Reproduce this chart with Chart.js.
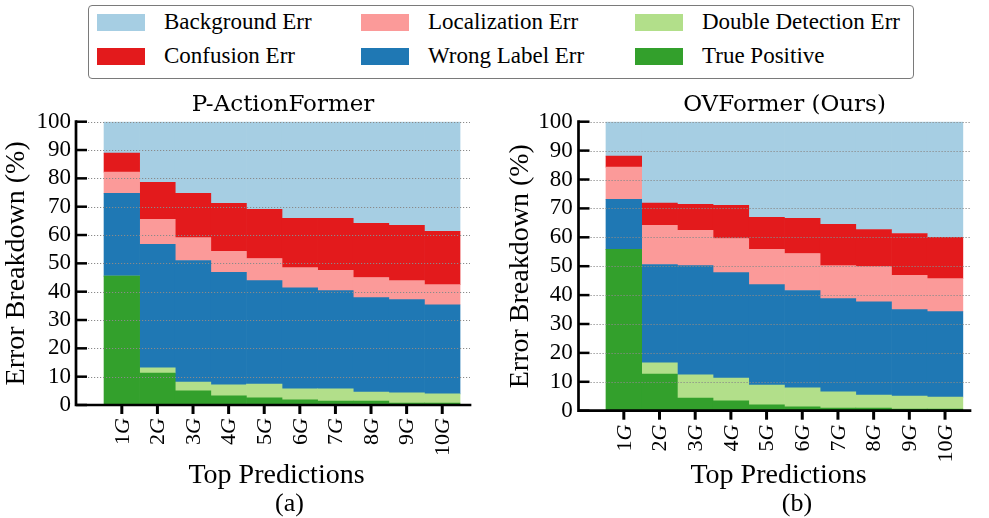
<!DOCTYPE html>
<html>
<head>
<meta charset="utf-8">
<script src="https://cdn.jsdelivr.net/npm/chart.js@4/dist/chart.umd.min.js"></script>
<style>
  html, body { margin: 0; padding: 0; background: #fff; }
  body { width: 989px; height: 518px; position: relative; overflow: hidden; font-family: 'Liberation Serif'; }
  .panel { position: absolute; top: 0; height: 518px; }
  #legend {
    position: absolute; left: 88px; top: 5px; width: 824px; height: 72px;
    border: 1.5px solid #7a7a7a; border-radius: 4px; background: #fff; z-index: 2;
  }
  .item { position: absolute; height: 17px; }
  .sw { position: absolute; left: 0; top: 0; width: 48px; height: 17px; }
  .lbl { position: absolute; left: 67px; top: -6px; font-family: 'Liberation Serif'; font-size: 23px; line-height: 28px; white-space: nowrap; color: #000; }
</style>
</head>
<body>
<div id="legend"></div>
<div class="panel" style="left:0;width:495px"><canvas id="chartA"></canvas></div>
<div class="panel" style="left:495px;width:494px"><canvas id="chartB"></canvas></div>
<script>
// Categories (top-k predictions) and y ticks
const xTickLabels = ['1G', '2G', '3G', '4G', '5G', '6G', '7G', '8G', '9G', '10G'];
const yTicks = [0, 10, 20, 30, 40, 50, 60, 70, 80, 90, 100];

// Series names, bottom to top of the stack
const seriesNames = ['True Positive', 'Double Detection Err', 'Wrong Label Err',
                     'Localization Err', 'Confusion Err', 'Background Err'];
const seriesColors = ['#33a02c', '#b2df8a', '#1f78b4', '#fb9a99', '#e31a1c', '#a6cee3'];

// (a) P-ActionFormer, percentages per top-k
const aTruePositive = [45.5, 11.3, 5.0, 3.2, 2.5, 1.8, 1.4, 1.4, 0.7, 0.7];
const aDoubleDet    = [0.0, 1.8, 3.1, 3.9, 4.9, 3.9, 4.3, 3.2, 3.6, 3.2];
const aWrongLabel   = [29.2, 43.6, 42.9, 39.7, 36.5, 35.7, 34.7, 33.3, 32.9, 31.5];
const aLocalization = [7.5, 8.8, 8.1, 7.4, 7.8, 7.1, 7.1, 7.1, 6.7, 7.1];
const aConfusion    = [6.7, 13.1, 15.6, 17.0, 17.4, 17.4, 18.4, 19.1, 19.5, 18.8];
const aBackground   = [11.1, 21.4, 25.3, 28.8, 30.9, 34.1, 34.1, 35.9, 36.6, 38.7];

// (b) OVFormer (Ours), percentages per top-k
const bTruePositive = [55.8, 12.7, 4.4, 3.4, 2.0, 1.3, 0.9, 0.9, 0.6, 0.6];
const bDoubleDet    = [0.0, 3.9, 8.0, 7.9, 6.9, 6.6, 5.6, 4.5, 4.5, 4.1];
const bWrongLabel   = [17.3, 34.0, 37.8, 36.5, 34.7, 33.7, 32.3, 32.3, 29.9, 29.6];
const bLocalization = [11.2, 13.5, 12.2, 11.8, 12.2, 12.8, 11.4, 12.2, 11.8, 11.4];
const bConfusion    = [3.8, 7.7, 9.0, 11.5, 11.1, 12.2, 14.3, 12.8, 14.5, 14.3];
const bBackground   = [11.9, 28.2, 28.6, 28.9, 33.1, 33.4, 35.5, 37.3, 38.7, 40.0];

// Legend (two rows, three columns)
const legendOrder = [
  ['Background Err', 0, 0], ['Localization Err', 1, 0], ['Double Detection Err', 2, 0],
  ['Confusion Err', 0, 1], ['Wrong Label Err', 1, 1], ['True Positive', 2, 1]
];
const legendColX = [8, 272, 546];
const legendRowY = [8, 42];
const legendEl = document.getElementById('legend');
legendOrder.forEach(([name, c, r]) => {
  const it = document.createElement('div');
  it.className = 'item';
  it.style.left = legendColX[c] + 'px';
  it.style.top = legendRowY[r] + 'px';
  const sw = document.createElement('div');
  sw.className = 'sw';
  sw.style.background = seriesColors[seriesNames.indexOf(name)];
  const lb = document.createElement('div');
  lb.className = 'lbl';
  lb.textContent = name;
  it.appendChild(sw); it.appendChild(lb);
  legendEl.appendChild(it);
});

const SERIF = "'Liberation Serif'";

// Spines, inward y ticks, outward x ticks, dotted grid over the bars,
// x labels with italic G, panel title, x-axis title and panel letter
const axisDecor = {
  id: 'axisDecor',
  afterDatasetsDraw(chart, args, o) {
    const { ctx, chartArea: { left, right, top, bottom }, scales: { x, y } } = chart;
    ctx.save();
    // dotted horizontal grid
    ctx.strokeStyle = '#8a8a8a';
    ctx.lineWidth = 1;
    ctx.setLineDash([1.2, 1.8]);
    yTicks.forEach(v => {
      if (v === 0) return;
      const py = Math.round(y.getPixelForValue(v)) + 0.5;
      ctx.beginPath(); ctx.moveTo(left, py); ctx.lineTo(right, py); ctx.stroke();
    });
    ctx.setLineDash([]);
    // spines
    ctx.strokeStyle = '#000';
    ctx.lineWidth = 2.7;
    ctx.lineCap = 'square';
    ctx.beginPath();
    ctx.moveTo(left, top); ctx.lineTo(left, bottom); ctx.lineTo(right, bottom);
    ctx.stroke();
    ctx.lineCap = 'butt';
    // y ticks pointing into the plot
    ctx.lineWidth = 2.5;
    yTicks.forEach(v => {
      const py = y.getPixelForValue(v);
      ctx.beginPath(); ctx.moveTo(left, py); ctx.lineTo(left + 11, py); ctx.stroke();
    });
    // x ticks below the axis
    ctx.lineWidth = 3;
    xTickLabels.forEach((lab, i) => {
      const px = x.getPixelForValue(i);
      ctx.beginPath(); ctx.moveTo(px, bottom); ctx.lineTo(px, bottom + 9); ctx.stroke();
    });
    // rotated x tick labels: number upright, "G" italic
    ctx.fillStyle = '#000';
    ctx.textBaseline = 'middle';
    ctx.textAlign = 'left';
    const fNum = '22px ' + SERIF, fIt = 'italic 22px ' + SERIF;
    xTickLabels.forEach((lab, i) => {
      const num = lab.slice(0, -1), suf = lab.slice(-1);
      ctx.font = fNum; const wN = ctx.measureText(num).width;
      ctx.font = fIt; const wS = ctx.measureText(suf).width;
      const px = x.getPixelForValue(i);
      ctx.save();
      ctx.translate(px + 1, bottom + o.labelGap);
      ctx.rotate(-Math.PI / 2);
      ctx.font = fNum; ctx.fillText(num, -(wN + wS), 0);
      ctx.font = fIt; ctx.fillText(suf, -wS, 0);
      ctx.restore();
    });
    // texts around the panel
    ctx.textAlign = 'center';
    ctx.textBaseline = 'alphabetic';
    ctx.font = "23px 'DejaVu Serif'";
    ctx.fillText(o.title, o.titleX, 111);
    ctx.font = '28px ' + SERIF;
    ctx.fillText('Top Predictions', o.xTitleX, 483);
    ctx.font = '26px ' + SERIF;
    ctx.fillText(o.letter, o.letterX, 511);
    ctx.restore();
  }
};

function makeChart(id, series, cfg) {
  const datasets = seriesNames.map((name, k) => ({
    label: name,
    data: series[k].map((v, i) => ({ x: i, y: v })),
    backgroundColor: seriesColors[k],
    borderWidth: 0,
    barPercentage: 1,
    categoryPercentage: 1
  }));
  return new Chart(document.getElementById(id), {
    type: 'bar',
    data: { datasets },
    plugins: [axisDecor],
    options: {
      responsive: true,
      maintainAspectRatio: false,
      animation: false,
      layout: { padding: { top: 121.7, left: 0, right: cfg.padRight, bottom: 0 } },
      plugins: {
        legend: { display: false },
        tooltip: { enabled: false },
        title: { display: false },
        axisDecor: {
          labelGap: cfg.labelGap, title: cfg.title, titleX: cfg.titleX,
          xTitleX: cfg.xTitleX, letter: cfg.letter, letterX: cfg.letterX
        }
      },
      scales: {
        x: {
          type: 'linear', stacked: true, offset: false,
          min: cfg.xMin, max: cfg.xMax,
          grid: { display: false, drawTicks: false },
          border: { display: false },
          ticks: { display: false },
          title: { display: false },
          afterFit: s => { s.height = cfg.xHeight; }
        },
        y: {
          stacked: true, min: 0, max: 100,
          grid: { display: false, drawTicks: false },
          border: { display: false },
          ticks: {
            stepSize: 10, autoSkip: false, color: '#000', padding: cfg.tickPad,
            font: { family: SERIF, size: 23 }
          },
          title: {
            display: true, text: 'Error Breakdown (%)', color: '#000',
            font: { family: SERIF, size: 28, weight: 'normal' },
            padding: { top: cfg.yTitlePad, bottom: 0 }
          },
          afterFit: s => { s.width = cfg.yWidth; }
        }
      }
    }
  });
}

const charts = [
  makeChart('chartA',
    [aTruePositive, aDoubleDet, aWrongLabel, aLocalization, aConfusion, aBackground],
    { title: 'P-ActionFormer', titleX: 283, xTitleX: 276.5, letter: '(a)', letterX: 289.5,
      padRight: 25, yWidth: 76, xHeight: 113, xMin: -1.287, xMax: 9.78,
      tickPad: 5, yTitlePad: 0, labelGap: 13 }),
  makeChart('chartB',
    [bTruePositive, bDoubleDet, bWrongLabel, bLocalization, bConfusion, bBackground],
    { title: 'OVFormer (Ours)', titleX: 289.5, xTitleX: 283.5, letter: '(b)', letterX: 302,
      padRight: 19, yWidth: 83.5, xHeight: 107.3, xMin: -1.27, xMax: 9.70,
      tickPad: 5.8, yTitlePad: 9, labelGap: 14 })
];

// redraw once the serif faces are ready so text metrics use them
Promise.all([
  document.fonts.load("23px 'Liberation Serif'"),
  document.fonts.load("italic 22px 'Liberation Serif'"),
  document.fonts.load("23px 'DejaVu Serif'")
]).then(() => charts.forEach(c => c.update('none')));
</script>
</body>
</html>
